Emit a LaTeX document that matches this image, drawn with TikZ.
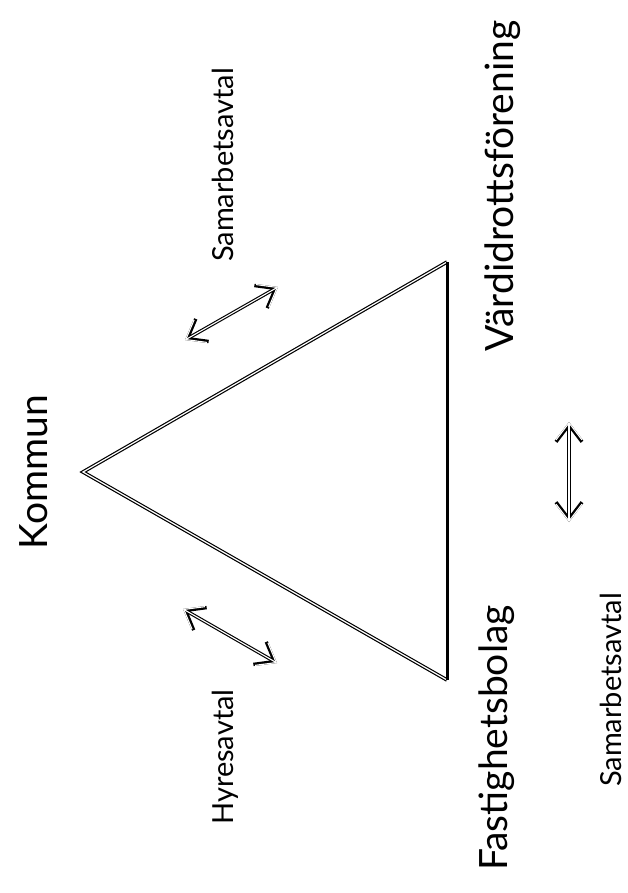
\documentclass[tikz,border=0pt]{standalone}
\usepackage{fontspec}
\setmainfont{Lato}
\usetikzlibrary{arrows.meta}
\begin{document}
\begin{tikzpicture}[x=1pt,y=-1pt,
  bigtxt/.style={rotate=90,anchor=base,inner sep=0pt,font=\fontsize{39}{41}\selectfont},
  smalltxt/.style={rotate=90,anchor=base,inner sep=0pt,font=\fontsize{29}{31}\selectfont},
  tri/.style={draw=black,line width=3.6pt,line join=miter,
    postaction={draw=white,line width=1.2pt,line join=miter}},
  tips/.style={{Straight Barb[length=17pt 0 0,width=26pt 0 0]}-{Straight Barb[length=17pt 0 0,width=26pt 0 0]}},
  dblarrow/.style={draw=black,line width=3.4pt,tips,
    postaction={draw=white,line width=1.1pt,tips}}]
\useasboundingbox (0,0) rectangle (627,893);
% triangle
\coordinate (K) at (83,472);
\coordinate (V) at (447,262);
\coordinate (F) at (447,680);
\draw[tri] (V) -- (K) -- (F);
\draw[line width=3pt] (V) -- (F);
% labels
\node[bigtxt] (kommun) at (47,472) {Kommun};
\node[bigtxt] (vard) at (513,186) {Värdidrottsförening};
\node[bigtxt] (fast) at (507,738) {Fastighetsbolag};
\node[smalltxt] (sam1) at (233,165) {Samarbetsavtal};
\node[smalltxt] (hyr) at (233,757) {Hyresavtal};
\node[smalltxt] (sam2) at (621,690) {Samarbetsavtal};
% arrows
\coordinate (a1s) at (185,340);
\coordinate (a1e) at (278,287);
\coordinate (a2s) at (183,609);
\coordinate (a2e) at (277,663);
\coordinate (a3s) at (569,422);
\coordinate (a3e) at (569,522);
\draw[dblarrow] (a1s) -- (a1e);
\draw[dblarrow] (a2s) -- (a2e);
\draw[dblarrow] (a3s) -- (a3e);
\end{tikzpicture}
\end{document}
